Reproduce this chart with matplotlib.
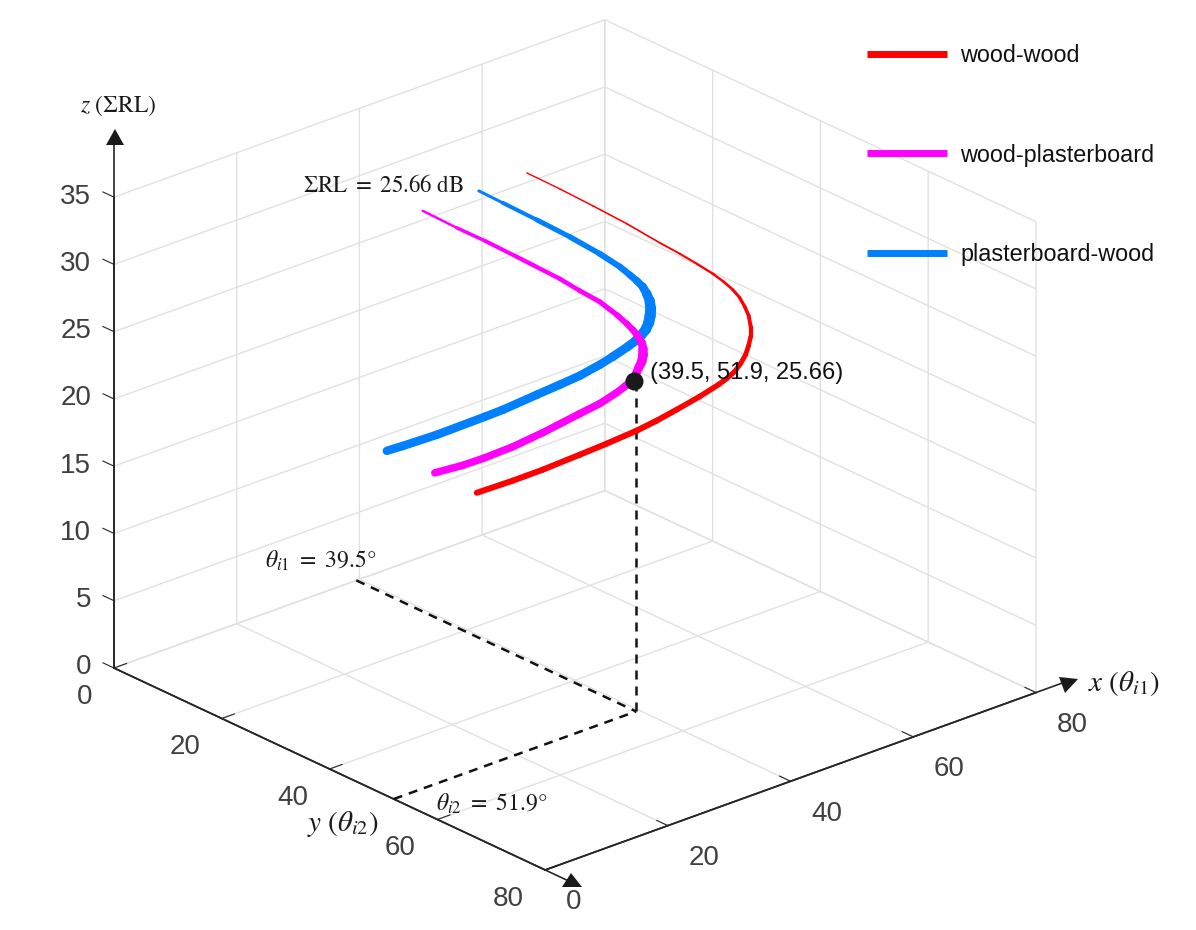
import numpy as np
import matplotlib
matplotlib.use("Agg")
import matplotlib.pyplot as plt
from matplotlib.lines import Line2D
from matplotlib.patches import Polygon
from mpl_toolkits.mplot3d import proj3d
from mpl_toolkits.mplot3d.art3d import Line3DCollection

plt.rcParams['font.family'] = ['Liberation Sans', 'DejaVu Sans']
plt.rcParams['mathtext.fontset'] = 'stix'

W, H = 1196, 930

series_names = ['wood-wood', 'wood-plasterboard', 'plasterboard-wood']

red_x = [43.37,46.83,50.30,53.87,57.33,59.43,61.22,62.90,64.05,65.00,65.73,66.26,66.68,66.89,66.89,66.68,66.36,65.84,65.21,64.37,63.53,61.53,59.12,57.02,54.92,51.77,48.93,45.05,41.90,38.12]
red_y = [27.22,29.39,31.57,33.81,35.98,37.30,38.42,39.47,40.20,40.79,41.25,41.58,41.85,41.98,41.98,41.85,41.65,41.32,40.92,40.40,39.87,38.62,37.10,35.78,34.47,32.49,30.71,28.27,26.29,23.92]
red_z = [34.76,33.41,31.99,30.49,28.91,28.00,27.17,26.35,25.70,25.07,24.44,23.75,23.06,22.23,21.49,20.83,20.17,19.53,18.96,18.48,18.08,17.28,16.42,15.70,15.06,14.24,13.55,12.62,11.95,11.23]

mag_x = [32.45,36.02,38.96,42.32,46.83,48.93,51.03,52.82,53.87,54.50,55.02,55.44,55.60,55.60,55.44,55.13,54.81,54.39,53.66,52.82,51.03,48.93,45.05,41.90,38.96,36.65,33.71]
mag_y = [20.36,22.60,24.45,26.56,29.39,30.71,32.03,33.15,33.81,34.20,34.53,34.80,34.89,34.89,34.80,34.60,34.40,34.14,33.67,33.15,32.03,30.71,28.27,26.29,24.45,23.00,21.15]
mag_z = [32.45,31.02,29.92,28.57,26.73,25.74,24.82,23.77,23.06,22.58,22.11,21.57,21.12,20.67,20.16,19.73,19.22,18.80,18.39,17.98,17.25,16.60,15.37,14.47,13.79,13.34,12.92]

blu_x = [38.33,40.85,44.42,47.88,51.03,53.13,54.18,54.92,55.55,55.97,56.28,56.39,56.33,56.18,55.86,55.44,54.81,53.97,52.40,51.03,48.93,46.83,44.42,40.85,38.96,33.92,30.35,28.67]
blu_y = [24.05,25.64,27.88,30.05,32.03,33.35,34.00,34.47,34.86,35.12,35.32,35.39,35.36,35.26,35.06,34.80,34.40,33.87,32.88,32.03,30.71,29.39,27.88,25.64,24.45,21.29,19.05,17.99]
blu_z = [33.66,32.65,31.22,29.80,28.39,27.33,26.68,26.20,25.73,25.19,24.65,24.05,23.54,23.02,22.52,22.17,21.75,21.34,20.67,20.14,19.42,18.85,18.22,17.27,16.84,15.74,15.08,14.79]

point_x, point_y, point_z = 39.1, 51.9, 24.64
foot_x, foot_y = 39.5, 51.9

x_ticks = [0, 20, 40, 60, 80]
y_ticks = [0, 20, 40, 60, 80]
z_ticks = [0, 5, 10, 15, 20, 25, 30, 35]

# line widths per segment, in pixels
red_w = [1.4,1.5,1.6,1.7,1.9,2.1,2.3,2.5,2.7,3,3.3,3.6,3.9,4.2,4.5,4.7,4.9,5,5.1,5.3,5.5,5.6,5.8,6,6,6,6,6,6]
mag_w = [2.5,3.5,4,4.3,4.5,4.8,5.2,5.8,6.3,6.8,7.5,8.5,9.5,9.5,9,8.5,8,7.8,7.5,7.5,7.5,7.5,7.5,7.5,7.5,7.5]
blu_w = [3,4,5,5.5,6,6.5,7,7.5,8.5,9.5,10.5,11,11,10.5,10,9.5,9,8.8,8.5,8.5,8.5,8.5,8.5,8.5,8.5,8.5,8.5]

fig = plt.figure(figsize=(W/100, H/100), dpi=100, facecolor='white')
ax = fig.add_axes([0.1, 0.1, 0.8, 0.8*W/H], projection='3d', computed_zorder=False)
ax.set_proj_type('ortho')
ax.set_xlim(0, 80, view_margin=0)
ax.set_ylim(80, 0, view_margin=0)
ax.set_zlim(0, 35, view_margin=0)
ax.set_box_aspect((653.4, 653.4, 516.7))
ax.view_init(elev=24.3, azim=228.7)

GRID = '#e1e1e1'
AXC = '#262626'
TXT = '#404040'
ax.set_xticks(x_ticks)
ax.set_yticks(y_ticks)
ax.set_zticks(z_ticks)
for axis in (ax.xaxis, ax.yaxis, ax.zaxis):
    axis.set_pane_color((1, 1, 1, 0))
    axis.pane.set_edgecolor((1, 1, 1, 0))
    axis.line.set_color(AXC)
    axis.line.set_linewidth(1.2)
    axis._axinfo['grid'].update(color=GRID, linewidth=1.0)
    axis._axinfo['tick'].update(inward_factor=0.0, outward_factor=0.32, color=AXC)
    axis.set_tick_params(labelsize=20, labelcolor=TXT, color=AXC, width=0.9)
ax.tick_params(axis='x', pad=10.5)
ax.tick_params(axis='y', pad=9)
ax.tick_params(axis='z', pad=1.5)
# z ticks point along the y direction, as in the reference
ax.zaxis._get_tickdir = lambda position: 1
for lab in ax.xaxis.get_ticklabels():
    lab.set_ha('left')
    lab.set_va('center')
for lab in ax.yaxis.get_ticklabels():
    lab.set_ha('right')
    lab.set_va('center')
for lab in ax.zaxis.get_ticklabels():
    lab.set_ha('right')
    lab.set_va('center')


def curve(xs, ys, zs, widths, color, zorder):
    pts = np.column_stack([xs, ys, zs])
    segs = np.stack([pts[:-1], pts[1:]], axis=1)
    lc = Line3DCollection(segs, colors=color, linewidths=np.array(widths)*0.72,
                          capstyle='round', zorder=zorder)
    ax.add_collection3d(lc)


DASH = (0, (3.6, 2.8))
ax.plot([foot_x, foot_x], [foot_y, foot_y], [0, point_z], color='#111111', lw=1.8, ls=DASH, zorder=3)
ax.plot([foot_x, foot_x], [0, foot_y], [0, 0], color='#111111', lw=1.8, ls=DASH, zorder=3)
ax.plot([0, foot_x], [foot_y, foot_y], [0, 0], color='#111111', lw=1.8, ls=DASH, zorder=3)

curve(red_x, red_y, red_z, red_w, '#ff0000', 4)
curve(blu_x, blu_y, blu_z, blu_w, '#0080ff', 5)
curve(mag_x, mag_y, mag_z, mag_w, '#ff00ff', 6)
ax.plot([point_x], [point_y], [point_z], 'o', color='#1a1a1a', ms=13, mew=0, zorder=7)

# axis arrows run past the limits
ax.plot([0, 0], [0, 0], [0, 39], color=AXC, lw=1.2, zorder=2)
ax.plot([0, 84.5], [80, 80], [0, 0], color=AXC, lw=1.2, zorder=2)
ax.plot([0, 0], [0, 84.5], [0, 0], color=AXC, lw=1.2, zorder=2)


def project(xv, yv, zv):
    ax.apply_aspect()
    xs, ys, _ = proj3d.proj_transform(xv, yv, zv, ax.get_proj())
    return ax.transData.transform((xs, ys))


# fit the 3-D box to the figure: (0,0,0) and (80,80,0) land at fixed spots
def fit():
    p0 = project(0, 0, 0)
    p1 = project(80, 80, 0)
    k = (1036 - 114) / (p1[0] - p0[0])
    pos = ax.get_position(original=True)
    ax.set_position([pos.x0, pos.y0, pos.width*k, pos.height*k])
    p0 = project(0, 0, 0)
    pos = ax.get_position(original=True)
    ax.set_position([pos.x0 + (114 - p0[0])/W, pos.y0 + (H - 668 - p0[1])/H, pos.width, pos.height])


fit()
fit()


def P(x, y):
    return (x/W, 1 - y/H)


for tri in ([(115, 129), (106, 145), (124, 145)],
            [(1078, 679), (1059, 677), (1065, 693)],
            [(571, 873), (562, 887), (582, 887)]):
    fig.add_artist(Polygon([P(*p) for p in tri], closed=True, transform=fig.transFigure,
                           facecolor='#1a1a1a', edgecolor='none', zorder=8))


def label(x, y, s, size=15, ha='left', color='#1a1a1a'):
    fig.text(*P(x, y), s, fontsize=size, ha=ha, va='center', color=color, zorder=9)


label(80, 106, r'$z\ (\mathit{\Sigma}\mathrm{RL})$', 17)
label(1088, 683, r'$x\ (\theta_{i1})$', 21)
label(307, 824, r'$y\ (\theta_{i2})$', 21)
label(303, 185, r'$\mathit{\Sigma}\mathrm{RL}\ =\ 25.66\ \mathrm{dB}$', 16.5)
label(265, 561, r'$\theta_{i1}\ =\ 39.5\degree$', 17)
label(436, 804, r'$\theta_{i2}\ =\ 51.9\degree$', 17)
label(650, 373, '(39.5, 51.9, 25.66)', 17, color='#111111')

handles = [Line2D([], [], color=c, lw=5.0, solid_capstyle='butt')
           for c in ('#ff0000', '#ff00ff', '#0080ff')]
fig.legend(handles, series_names, loc='upper left', bbox_to_anchor=P(867, 44),
           bbox_transform=fig.transFigure, frameon=False, fontsize=16.8, borderpad=0,
           borderaxespad=0, handlelength=3.44, handletextpad=0.55, labelspacing=3.28,
           labelcolor='#111111')

fig.savefig('out.png', dpi=100, facecolor='white')
